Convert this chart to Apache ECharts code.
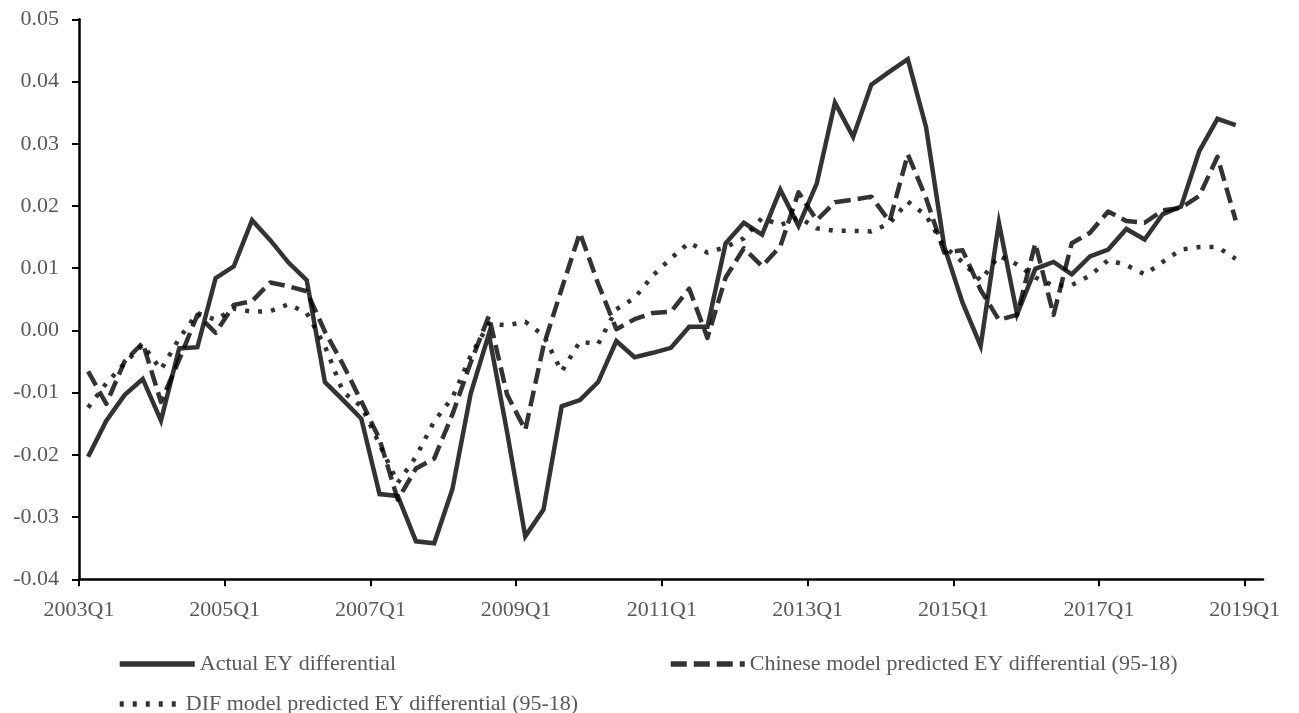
<!DOCTYPE html>
<html>
<head>
<meta charset="utf-8">
<script src="https://cdn.jsdelivr.net/npm/echarts@6/dist/echarts.min.js"></script>
<style>
  html, body { margin: 0; padding: 0; background: #fff; }
  #chart { width: 1299px; height: 713px; }
</style>
</head>
<body>
<div id="chart"></div>
<script>
// Quarterly observations, 2003Q1 .. 2018Q4
const firstYear = 2003;
const quarters = [];
for (let y = 2003; y <= 2018; y++) for (let q = 1; q <= 4; q++) quarters.push(y + 'Q' + q);

const tickLabels = ['2003Q1', '2005Q1', '2007Q1', '2009Q1', '2011Q1', '2013Q1', '2015Q1', '2017Q1', '2019Q1'];

const actualEY = [
  -0.0203, -0.0145, -0.0104, -0.0078, -0.0145, -0.0029, -0.0027, 0.0084,
   0.0103,  0.0177,  0.0145,  0.0109,  0.0081, -0.0083, -0.0112, -0.0142,
  -0.0263, -0.0266, -0.0339, -0.0342, -0.0255, -0.0102, -0.0006, -0.0163,
  -0.0331, -0.0288, -0.0122, -0.0112, -0.0083, -0.0017, -0.0043, -0.0036,
  -0.0028,  0.0006,  0.0006,  0.0140,  0.0173,  0.0154,  0.0226,  0.0168,
   0.0236,  0.0366,  0.0311,  0.0395,  0.0416,  0.0436,  0.0327,  0.0135,
   0.0045, -0.0025,  0.0173,  0.0026,  0.0099,  0.0110,  0.0090,  0.0119,
   0.0130,  0.0163,  0.0146,  0.0187,  0.0199,  0.0288,  0.0340,  0.0330
];

const chineseModel = [
  -0.0066, -0.0118, -0.0050, -0.0020, -0.0115, -0.0047,  0.0025, -0.0004,
   0.0041,  0.0047,  0.0077,  0.0071,  0.0063, -0.0002, -0.0055, -0.0114,
  -0.0175, -0.0272, -0.0222, -0.0206, -0.0135, -0.0052,  0.0023, -0.0103,
  -0.0160, -0.0025,  0.0067,  0.0157,  0.0075,  0.0002,  0.0018,  0.0028,
   0.0030,  0.0067, -0.0012,  0.0085,  0.0132,  0.0103,  0.0135,  0.0222,
   0.0177,  0.0206,  0.0210,  0.0215,  0.0175,  0.0283,  0.0213,  0.0125,
   0.0129,  0.0065,  0.0017,  0.0025,  0.0140,  0.0025,  0.0140,  0.0157,
   0.0191,  0.0176,  0.0173,  0.0193,  0.0197,  0.0216,  0.0279,  0.0177
];

const difModel = [
  -0.0124, -0.0085, -0.0053, -0.0023, -0.0063, -0.0013,  0.0028,  0.0017,
   0.0035,  0.0030,  0.0031,  0.0042,  0.0028, -0.0025, -0.0099, -0.0122,
  -0.0183, -0.0245, -0.0203, -0.0146, -0.0108, -0.0041,  0.0011,  0.0008,
   0.0014, -0.0008, -0.0066, -0.0018, -0.0022,  0.0034,  0.0052,  0.0088,
   0.0116,  0.0141,  0.0125,  0.0134,  0.0148,  0.0181,  0.0169,  0.0182,
   0.0164,  0.0160,  0.0160,  0.0159,  0.0172,  0.0207,  0.0185,  0.0135,
   0.0110,  0.0080,  0.0120,  0.0106,  0.0085,  0.0072,  0.0073,  0.0088,
   0.0113,  0.0105,  0.0090,  0.0110,  0.0130,  0.0134,  0.0134,  0.0115
];

const seriesNames = [
  'Actual EY differential',
  'Chinese model predicted EY differential (95-18)',
  'DIF model predicted EY differential (95-18)'
];

// Quarter label -> position on a continuous quarter scale (2003Q1 = 0)
function quarterIndex(label) {
  const y = parseInt(label.slice(0, 4), 10);
  const q = parseInt(label.slice(5), 10);
  return (y - firstYear) * 4 + (q - 1);
}
const tickValues = tickLabels.map(quarterIndex);
const labelByValue = {};
tickLabels.forEach(function (t) { labelByValue[quarterIndex(t)] = t; });

// Each observation sits in the middle of its quarter
function toPoints(values) {
  return values.map(function (v, i) { return [quarterIndex(quarters[i]) + 0.5, v]; });
}

const fontFamily = "'Liberation Serif', 'Times New Roman', serif";
const textColor = '#595959';
const lineColor = 'rgba(0,0,0,0.8)';
const lineWidth = 4.5;

const dashPattern = [16, 7];
const dotPattern = [4, 9];

function legendBlock(name, left, top, width, dash) {
  return {
    data: [name], left: left, top: top, itemWidth: width, itemHeight: 16,
    itemStyle: { opacity: 0 },
    lineStyle: { width: 5.5, type: dash, color: lineColor },
    textStyle: { color: textColor, fontFamily: fontFamily, fontSize: 22 }
  };
}

const chart = echarts.init(document.getElementById('chart'), null, { renderer: 'canvas' });
chart.setOption({
  animation: false,
  backgroundColor: '#ffffff',
  grid: { left: 79, right: 36, top: 19.3, bottom: 133.7, containLabel: false },
  xAxis: {
    type: 'value',
    min: 0,
    max: quarters.length + 1,
    interval: 8,
    splitLine: { show: false },
    axisLine: { show: true, onZero: false, lineStyle: { color: '#000', width: 2.5 } },
    axisTick: { show: true, length: 7, lineStyle: { color: '#000', width: 2 }, customValues: tickValues },
    axisLabel: {
      customValues: tickValues,
      formatter: function (v) { return labelByValue[v] || ''; },
      color: textColor, fontFamily: fontFamily, fontSize: 22, margin: 20
    }
  },
  yAxis: {
    type: 'value',
    min: -0.04,
    max: 0.05,
    interval: 0.01,
    splitLine: { show: false },
    axisLine: { show: true, lineStyle: { color: '#000', width: 2.5 } },
    axisTick: { show: true, length: 7, lineStyle: { color: '#000', width: 2 } },
    axisLabel: {
      formatter: function (v) { return v.toFixed(2); },
      color: textColor, fontFamily: fontFamily, fontSize: 22, margin: 20
    }
  },
  legend: [
    legendBlock(seriesNames[0], 112, 648, 75, 'solid'),
    legendBlock(seriesNames[1], 663, 648, 74, dashPattern),
    legendBlock(seriesNames[2], 112, 688, 61, dotPattern)
  ],
  series: [
    {
      name: seriesNames[0], type: 'line', data: toPoints(actualEY),
      symbol: 'none', z: 3,
      lineStyle: { color: lineColor, width: lineWidth, type: 'solid', join: 'miter' },
      itemStyle: { color: lineColor }
    },
    {
      name: seriesNames[1], type: 'line', data: toPoints(chineseModel),
      symbol: 'none', z: 2,
      lineStyle: { color: lineColor, width: lineWidth, type: dashPattern, join: 'round' },
      itemStyle: { color: lineColor }
    },
    {
      name: seriesNames[2], type: 'line', data: toPoints(difModel),
      symbol: 'none', z: 1,
      lineStyle: { color: lineColor, width: lineWidth, type: dotPattern, join: 'round' },
      itemStyle: { color: lineColor }
    }
  ]
});
</script>
</body>
</html>
